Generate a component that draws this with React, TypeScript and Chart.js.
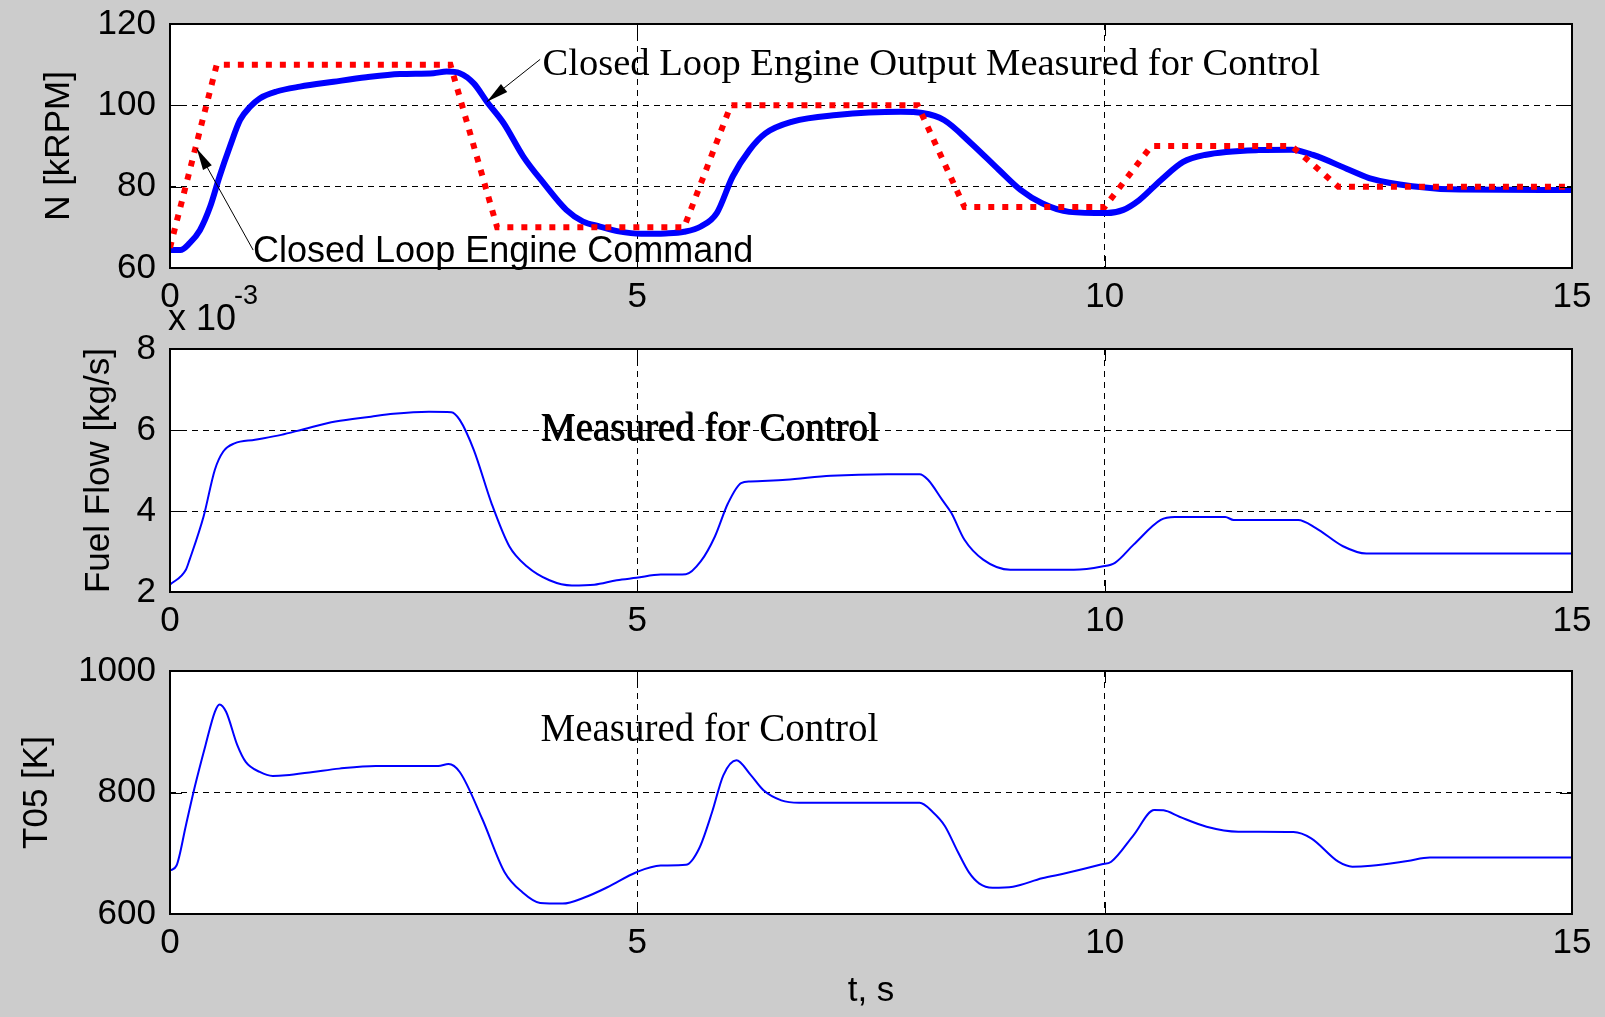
import React, { useEffect, useRef } from 'react';
import { Chart, registerables } from 'chart.js';

Chart.register(...registerables);

// ---------- data ----------
const cmdT = [0, 0.5, 3, 3.5, 5.5, 6, 8, 8.5, 10, 10.5, 12, 12.5, 15];
const cmdN = [65, 110, 110, 70, 70, 100, 100, 75, 75, 90, 90, 80, 80];

const outT = [0, 0.11, 0.21, 0.32, 0.43, 0.53, 0.64, 0.75, 0.86, 0.96, 1.14, 1.39, 1.75, 2.1, 2.46, 2.82, 2.96, 3.1, 3.25, 3.39, 3.57, 3.78, 4.0, 4.24, 4.42, 4.6, 4.8, 5.04, 5.3, 5.5, 5.68, 5.85, 6.02, 6.2, 6.37, 6.66, 7.13, 7.82, 8.05, 8.28, 8.57, 8.87, 9.1, 9.33, 9.62, 10.02, 10.2, 10.37, 10.6, 10.84, 11.07, 11.65, 12.0, 12.23, 12.62, 12.86, 13.29, 13.8, 15];
const outN = [64.4, 64.4, 66.1, 69.3, 75.1, 82.5, 89.8, 96.4, 99.7, 101.7, 103.4, 104.6, 105.8, 106.9, 107.7, 107.9, 108.3, 107.9, 105.4, 100.9, 95.6, 87.4, 80.8, 74.3, 71.4, 70.2, 69.0, 68.4, 68.5, 68.9, 70.2, 73.5, 82.5, 89.0, 93.1, 96.0, 97.6, 98.4, 98.1, 96.4, 90.7, 84.1, 79.2, 75.9, 73.8, 73.5, 74.3, 76.7, 81.6, 86.1, 87.8, 89.0, 89.1, 87.8, 84.1, 81.9, 80.1, 79.3, 79.2];

// fuel flow in units of 1e-3 kg/s
const fuelT = [0, 0.17, 0.21, 0.36, 0.48, 0.57, 0.69, 0.91, 1.19, 1.43, 1.77, 2.15, 2.39, 2.77, 3.01, 3.1, 3.25, 3.44, 3.63, 3.82, 4.06, 4.3, 4.54, 4.78, 4.99, 5.25, 5.52, 5.68, 5.83, 5.97, 6.11, 6.21, 6.59, 7.07, 7.68, 8.02, 8.11, 8.26, 8.36, 8.5, 8.7, 8.99, 9.67, 9.97, 10.11, 10.31, 10.6, 10.75, 11.29, 11.38, 12.07, 12.26, 12.55, 12.8, 15];
const fuelE3 = [2.18, 2.55, 2.8, 3.87, 5.02, 5.47, 5.67, 5.76, 5.88, 6.02, 6.21, 6.33, 6.4, 6.45, 6.44, 6.25, 5.51, 4.19, 3.13, 2.63, 2.29, 2.16, 2.18, 2.29, 2.35, 2.43, 2.44, 2.76, 3.37, 4.19, 4.69, 4.73, 4.77, 4.87, 4.91, 4.91, 4.77, 4.28, 3.95, 3.29, 2.8, 2.55, 2.55, 2.63, 2.72, 3.17, 3.78, 3.85, 3.85, 3.78, 3.78, 3.58, 3.13, 2.95, 2.95];

const t05T = [0, 0.07, 0.17, 0.26, 0.38, 0.48, 0.53, 0.6, 0.72, 0.81, 0.96, 1.1, 1.24, 1.53, 1.81, 2.2, 2.87, 2.98, 3.1, 3.34, 3.58, 3.77, 3.96, 4.2, 4.44, 4.68, 4.99, 5.25, 5.52, 5.66, 5.8, 5.92, 6.06, 6.21, 6.35, 6.54, 6.73, 8.02, 8.16, 8.29, 8.43, 8.55, 8.66, 8.8, 9.02, 9.33, 9.58, 9.97, 10.07, 10.31, 10.53, 10.63, 10.8, 11.09, 11.43, 12.02, 12.21, 12.5, 12.65, 12.85, 13.24, 13.48, 15];
const t05K = [671.5, 679.8, 745.8, 806.3, 877.9, 932.9, 945, 932.9, 877.9, 850.3, 833.8, 827.2, 828.3, 833.8, 839.3, 843.7, 843.7, 847, 833.8, 756.8, 668.8, 635.8, 618.2, 617.1, 627.5, 644, 668.8, 679.8, 680.9, 707.3, 767.8, 828.3, 853.1, 829.4, 803.6, 787.1, 783.2, 783, 768, 745, 702, 668, 650, 643.3, 645, 658.7, 667, 681.8, 686.1, 730, 771.2, 770.6, 760, 743.7, 735.5, 735, 724.6, 686.1, 677.9, 679.5, 687.3, 692.8, 692.8];

const xTickLabels = ['0', '5', '10', '15'];
const nTicks = [60, 80, 100, 120];
const fuelTicks = [2, 4, 6, 8];
const t05Ticks = [600, 800, 1000];

const SANS = "'Liberation Sans', Arial, Helvetica, sans-serif";
const SERIF = "'Liberation Serif', 'Times New Roman', serif";

const pts = (xs: number[], ys: number[]) => xs.map((x, i) => ({ x, y: ys[i] }));

type Note = { t: number; v: number; text: string; font: string; doubled?: boolean };
type Arrow = { t0: number; v0: number; t1: number; v1: number };

const matlabPlugin = {
  id: 'matlab',
  beforeDraw(chart: any) {
    const { ctx, chartArea: a } = chart;
    ctx.save();
    ctx.fillStyle = '#ffffff';
    ctx.fillRect(a.left, a.top, a.right - a.left, a.bottom - a.top);
    ctx.restore();
  },
  afterDraw(chart: any, _args: any, opts: any) {
    const { ctx, chartArea: a, scales } = chart;
    const xs = scales.x;
    const ys = scales.y;
    ctx.save();
    ctx.setLineDash([]);
    ctx.strokeStyle = '#000';
    ctx.lineWidth = 1;
    const L = 12;
    const seg = (x0: number, y0: number, x1: number, y1: number) => {
      ctx.beginPath();
      ctx.moveTo(x0, y0);
      ctx.lineTo(x1, y1);
      ctx.stroke();
    };
    xs.ticks.forEach((tk: any) => {
      if (tk.value <= xs.min || tk.value >= xs.max) return;
      const px = Math.round(xs.getPixelForValue(tk.value)) + 0.5;
      seg(px, a.bottom, px, a.bottom - L);
      seg(px, a.top, px, a.top + L);
    });
    ys.ticks.forEach((tk: any) => {
      if (tk.value <= ys.min || tk.value >= ys.max) return;
      const py = Math.round(ys.getPixelForValue(tk.value)) + 0.5;
      seg(a.left, py, a.left + L, py);
      seg(a.right, py, a.right - L, py);
    });
    ctx.lineWidth = 2;
    ctx.strokeRect(a.left, a.top, a.right - a.left, a.bottom - a.top);

    // arrows
    (opts.arrows || []).forEach((ar: Arrow) => {
      const x0 = xs.getPixelForValue(ar.t0), y0 = ys.getPixelForValue(ar.v0);
      const x1 = xs.getPixelForValue(ar.t1), y1 = ys.getPixelForValue(ar.v1);
      ctx.lineWidth = 1;
      seg(x0, y0, x1, y1);
      const ang = Math.atan2(y1 - y0, x1 - x0);
      const hl = 22, hw = 5;
      const bx = x1 - hl * Math.cos(ang), by = y1 - hl * Math.sin(ang);
      ctx.beginPath();
      ctx.moveTo(x1, y1);
      ctx.lineTo(bx + hw * Math.sin(ang), by - hw * Math.cos(ang));
      ctx.lineTo(bx - hw * Math.sin(ang), by + hw * Math.cos(ang));
      ctx.closePath();
      ctx.fillStyle = '#000';
      ctx.fill();
    });

    // notes
    ctx.fillStyle = '#000';
    ctx.textBaseline = 'alphabetic';
    ctx.textAlign = 'left';
    (opts.notes || []).forEach((n: Note) => {
      const x = xs.getPixelForValue(n.t), y = ys.getPixelForValue(n.v);
      ctx.font = n.font;
      ctx.fillText(n.text, x, y);
      if (n.doubled) ctx.fillText(n.text, x + 1, y + 1);
    });

    // exponent label
    if (opts.exponent) {
      ctx.font = `36px ${SANS}`;
      ctx.fillText('x 10', a.left - 2, a.top - 19);
      ctx.font = `27px ${SANS}`;
      ctx.fillText('-3', a.left + 64, a.top - 45);
    }
    ctx.restore();
  },
};

function buildConfig(p: {
  datasets: any[];
  yMin: number; yMax: number; yTicks: number[];
  yTitle: string; yTitlePad: number;
  padTop: number; xHeight: number; xTitle?: string;
  notes?: Note[]; arrows?: Arrow[]; exponent?: boolean;
}) {
  return {
    type: 'line',
    data: { datasets: p.datasets },
    plugins: [matlabPlugin],
    options: {
      animation: false,
      responsive: false,
      devicePixelRatio: 1,
      layout: { padding: { top: p.padTop, right: 33, bottom: 0, left: 0 } },
      plugins: {
        legend: { display: false },
        tooltip: { enabled: false },
        matlab: { notes: p.notes || [], arrows: p.arrows || [], exponent: !!p.exponent },
      },
      elements: { point: { radius: 0 } },
      scales: {
        x: {
          type: 'linear',
          min: 0,
          max: 15,
          afterBuildTicks: (s: any) => { s.ticks = xTickLabels.map((l) => ({ value: Number(l) })); },
          afterFit: (s: any) => { s.height = p.xHeight; },
          ticks: {
            color: '#000',
            font: { family: SANS, size: 35 },
            padding: 8,
            maxRotation: 0,
            autoSkip: false,
            callback: (v: number) => String(v),
          },
          grid: { color: '#000', lineWidth: 1, drawTicks: false },
          border: { display: false, dash: [6, 5] },
          title: {
            display: !!p.xTitle,
            text: p.xTitle || '',
            color: '#000',
            font: { family: SANS, size: 35 },
            padding: { top: 0, bottom: 5 },
          },
        },
        y: {
          type: 'linear',
          min: p.yMin,
          max: p.yMax,
          afterBuildTicks: (s: any) => { s.ticks = p.yTicks.map((v) => ({ value: v })); },
          afterFit: (s: any) => { s.width = 170; },
          ticks: {
            color: '#000',
            font: { family: SANS, size: 35 },
            padding: 14,
            autoSkip: false,
            callback: (v: number) => String(v),
          },
          grid: { color: '#000', lineWidth: 1, drawTicks: false },
          border: { display: false, dash: [6, 5] },
          title: {
            display: true,
            text: p.yTitle,
            color: '#000',
            font: { family: SANS, size: 35 },
            padding: { top: p.yTitlePad, bottom: 0 },
          },
        },
      },
    },
  } as any;
}

function Panel({ top, height, config }: { top: number; height: number; config: any }) {
  const ref = useRef<HTMLCanvasElement | null>(null);
  useEffect(() => {
    if (!ref.current) return;
    const chart = new Chart(ref.current, config);
    return () => chart.destroy();
  }, []);
  return (
    <canvas
      ref={ref}
      width={1605}
      height={height}
      style={{ position: 'absolute', left: 0, top, width: 1605, height }}
    />
  );
}

export default function App() {
  const topCfg = buildConfig({
    datasets: [
      {
        label: 'Closed Loop Engine Command',
        data: pts(cmdT, cmdN),
        borderColor: '#ff0000',
        borderWidth: 6,
        borderDash: [6, 8],
        borderCapStyle: 'butt',
        tension: 0,
      },
      {
        label: 'Closed Loop Engine Output Measured for Control',
        data: pts(outT, outN),
        borderColor: '#0000ff',
        borderWidth: 6,
        borderJoinStyle: 'round',
        borderCapStyle: 'round',
        cubicInterpolationMode: 'monotone',
      },
    ],
    yMin: 60, yMax: 120, yTicks: nTicks,
    yTitle: 'N [kRPM]', yTitlePad: 38,
    padTop: 44, xHeight: 72,
    notes: [
      { t: 3.985, v: 107.46, text: 'Closed Loop Engine Output Measured for Control', font: `38.6px ${SERIF}` },
      { t: 0.888, v: 61.48, text: 'Closed Loop Engine Command', font: `36px ${SANS}` },
    ],
    arrows: [
      { t0: 3.96, v0: 111.3, t1: 3.39, v1: 100.9 },
      { t0: 0.89, v0: 64.4, t1: 0.286, v1: 89.4 },
    ],
  });

  const midCfg = buildConfig({
    datasets: [
      {
        label: 'Fuel Flow',
        data: pts(fuelT, fuelE3),
        borderColor: '#0000ff',
        borderWidth: 2,
        cubicInterpolationMode: 'monotone',
      },
    ],
    yMin: 2, yMax: 8, yTicks: fuelTicks,
    yTitle: 'Fuel Flow [kg/s]', yTitlePad: 78,
    padTop: 74, xHeight: 73,
    notes: [{ t: 3.964, v: 5.753, text: 'Measured for Control', font: `39px ${SERIF}`, doubled: true }],
    exponent: true,
  });

  const botCfg = buildConfig({
    datasets: [
      {
        label: 'T05',
        data: pts(t05T, t05K),
        borderColor: '#0000ff',
        borderWidth: 2,
        cubicInterpolationMode: 'monotone',
      },
    ],
    yMin: 600, yMax: 1000, yTicks: t05Ticks,
    yTitle: 'T05 [K]', yTitlePad: 16,
    padTop: 51, xHeight: 103, xTitle: 't, s',
    notes: [{ t: 3.964, v: 884.8, text: 'Measured for Control', font: `39px ${SERIF}` }],
  });

  return (
    <div
      style={{
        position: 'fixed',
        left: 0,
        top: 0,
        width: 1605,
        height: 1017,
        background: '#cccccc',
        overflow: 'hidden',
      }}
    >
      <Panel top={-20} height={360} config={topCfg} />
      <Panel top={275} height={390} config={midCfg} />
      <Panel top={620} height={397} config={botCfg} />
    </div>
  );
}
